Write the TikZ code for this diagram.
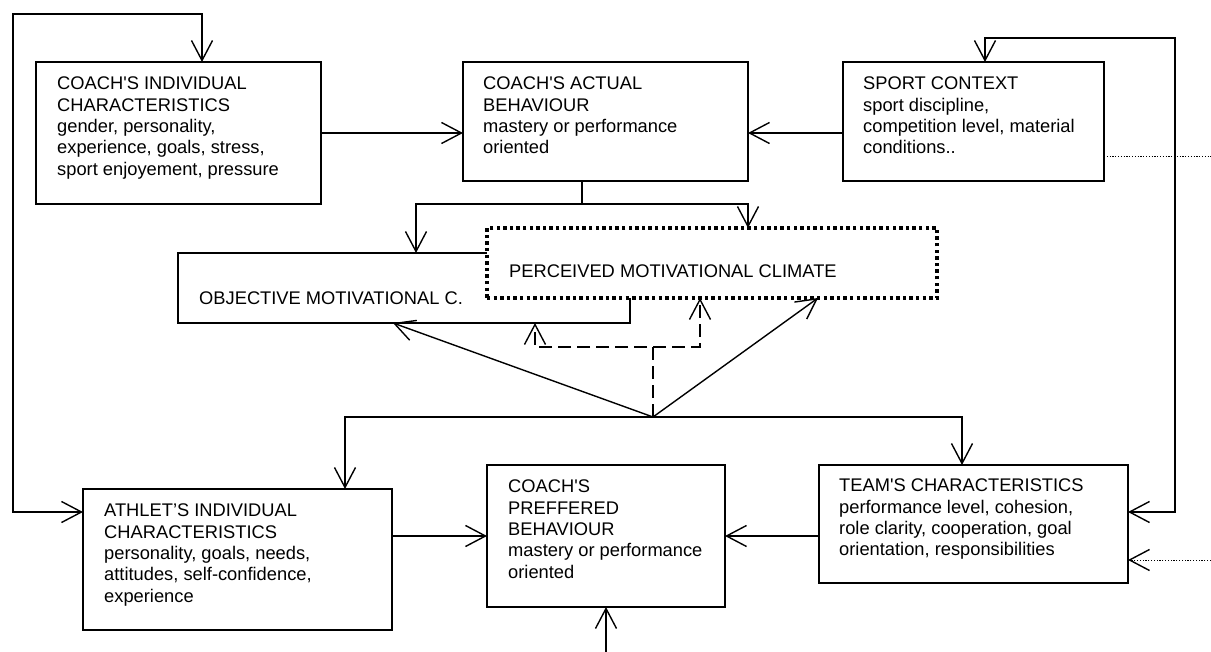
\documentclass[tikz,border=0pt]{standalone}
\usepackage{fontspec}
\setmainfont{Liberation Sans}
\usetikzlibrary{arrows.meta,calc}
\newcommand\ap{\textquotesingle}
\begin{document}
\begin{tikzpicture}[x=1pt,y=-1pt,
  box/.style={draw, line width=1.5pt, anchor=north west, inner sep=0pt, outer sep=0pt},
  dotbox/.style={draw, fill=white, line width=3.4pt, dash pattern=on 3.4pt off 3.2pt, anchor=north west, inner sep=0pt, outer sep=0pt},
  txt/.style={anchor=north west, inner sep=0pt, align=left, font=\fontsize{18.3}{21.3}\selectfont},
  con/.style={line width=1.4pt},
  dsh/.style={line width=1.4pt, dash pattern=on 13pt off 6pt},
  fdot/.style={line width=1pt, dash pattern=on 1.2pt off 1.6pt},
  >={Straight Barb[length=20pt,width=21pt,line width=1.4pt]},
]
\fill[white] (0,0) rectangle (1211,652);
\useasboundingbox (0,0) rectangle (1211,652);

% boxes
\node[box, minimum width=285pt, minimum height=142pt] (b1) at (36,62) {};
\node[box, minimum width=285pt, minimum height=119pt] (b2) at (463,62) {};
\node[box, minimum width=261pt, minimum height=119pt] (b3) at (843,62) {};
\node[box, minimum width=452pt, minimum height=70pt] (obj) at (178,253) {};
\node[box, minimum width=309pt, minimum height=141pt] (ath) at (83,489) {};
\node[box, minimum width=238pt, minimum height=142pt] (pref) at (487,465) {};
\node[box, minimum width=309pt, minimum height=118pt] (team) at (819,465) {};

% texts
\node[txt] (t1) at (57,77) {COACH\ap S INDIVIDUAL\\CHARACTERISTICS\\gender, personality,\\experience, goals, stress,\\sport enjoyement, pressure};
\node[txt] (t2) at (483,77) {COACH\ap S ACTUAL\\BEHAVIOUR\\mastery or performance\\oriented};
\node[txt] (t3) at (863,77) {SPORT CONTEXT\\sport discipline,\\competition level, material\\conditions..};
\node[txt] (tobj) at (199,292) {OBJECTIVE MOTIVATIONAL C.};
\node[txt] (tath) at (104,504) {ATHLET’S INDIVIDUAL\\CHARACTERISTICS\\personality, goals, needs,\\attitudes, self-confidence,\\experience};
\node[txt] (tpref) at (508,480) {COACH\ap S\\PREFFERED\\BEHAVIOUR\\mastery or performance\\oriented};
\node[txt] (tteam) at (839,479) {TEAM\ap S CHARACTERISTICS\\performance level, cohesion,\\role clarity, cooperation, goal\\orientation, responsibilities};

% perceived (dotted, on top of objective)
\node[dotbox, minimum width=450pt, minimum height=70pt] (per) at (487,228) {};
\node[txt] (tper) at (509,265) {PERCEIVED MOTIVATIONAL CLIMATE};

% coordinates
\coordinate (lt) at (13,14);
\coordinate (rt) at (1175,38);
\coordinate (s) at (582,204);
\coordinate (v) at (653,417);
\coordinate (dj) at (653,347);
\coordinate (bot) at (606,652);
\coordinate (d1) at (1211,157);
\coordinate (d2) at (1211,560);

% left loop
\draw[con,<->] ($(b1.north west)+(166,0)$) |- (lt) |- ($(ath.north west)+(0,23)$);
% right loop
\draw[con,<->] ($(b3.north west)+(142,0)$) |- (rt) |- ($(team.north east)+(0,47)$);

% top row
\draw[con,->] (b1.east) -- (b1.east -| b2.west);
\draw[con,->] (b3.west |- b1.east) -- (b2.east |- b1.east);

% split from actual behaviour
\draw[con] ($(b2.south west)+(119,0)$) -- (s);
\draw[con,->] (s) -| ($(obj.north west)+(238,0)$);
\draw[con,->] (s) -| ($(per.north west)+(261,0)$);

% lower horizontal
\draw[con,<->] ($(ath.north west)+(262,0)$) |- ($(team.north west)+(143,-48)$) -- ($(team.north west)+(143,0)$);

% V arrows
\draw[con,->] (v) -- ($(obj.south west)+(215,0)$);
\draw[con,->] (v) -- ($(per.south west)+(331,0)$);
\draw[dsh,->] (v) -- (dj) -| ($(obj.south west)+(357,0)$);
\draw[dsh,->] (dj) -| ($(per.south west)+(213,0)$);

% preferred
\draw[con,->] (pref.west -| ath.east) -- (pref.west);
\draw[con,->] (pref.east -| team.west) -- (pref.east);
\draw[con,->] (bot) -- (pref.south);

% dotted
\draw[fdot] ($(b3.north east)+(0,95)$) -- (d1);
\draw[fdot,->] (d2) -- ($(team.north east)+(0,95)$);
\end{tikzpicture}
\end{document}
